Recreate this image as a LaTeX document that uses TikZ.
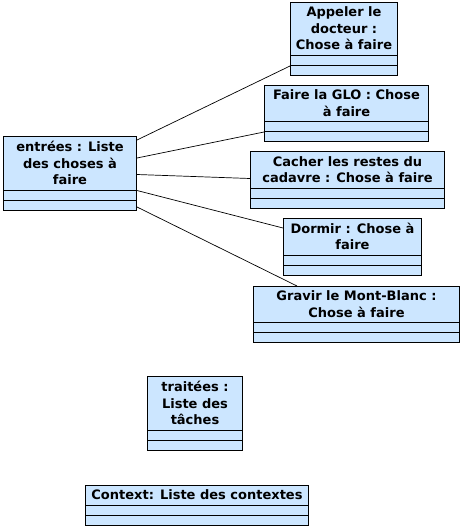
\documentclass[tikz,border=0pt]{standalone}
\usepackage{fontspec}
\setmainfont{DejaVu Sans}
\usetikzlibrary{calc}
\definecolor{chosefill}{RGB}{204,230,255}
\tikzset{
  chosebox/.style={draw=black, fill=chosefill, line width=1pt, inner sep=0pt},
  chosetitle/.style={align=center, inner sep=0pt,
    font=\fontsize{13}{16.5}\selectfont\bfseries},
  lien/.style={draw=black, line width=0.7pt}
}
\newcommand{\chose}[6]{%
  \node[chosebox, anchor=north west, minimum width=#4pt, minimum height=#5pt]
    (#1) at (#2,#3) {};
  \draw[line width=0.9pt] ([yshift=21pt]#1.south west) -- ([yshift=21pt]#1.south east);
  \draw[line width=0.9pt] ([yshift=10.5pt]#1.south west) -- ([yshift=10.5pt]#1.south east);
  \node[chosetitle] (#1-t) at ($(#1.north)!0.5!([yshift=21pt]#1.south)$) {#6};
}

\begin{document}
\begin{tikzpicture}[x=1pt, y=-1pt]
    \useasboundingbox (0,0) rectangle (462,528);
    % Objects (name, x, y, width, height, label)
    \chose{entrees}{3}{136}{133}{74}{entrées : Liste\\des choses à\\faire}
    \chose{appeler}{290}{2}{107}{73}{Appeler le\\docteur :\\Chose à faire}
    \chose{glo}{264}{85}{164}{56}{Faire la GLO : Chose\\à faire}
    \chose{cadavre}{250}{151}{194}{57}{Cacher les restes du\\cadavre : Chose à faire}
    \chose{dormir}{283}{218}{138}{57}{Dormir : Chose à\\faire}
    \chose{gravir}{253}{286}{206}{56}{Gravir le Mont-Blanc :\\Chose à faire}
    \chose{traitees}{147}{376}{95}{74}{traitées :\\Liste des\\tâches}
    \chose{context}{85}{485}{223}{40}{Context: Liste des contextes}
    % Links
    \draw[lien] ([yshift=-4pt]entrees.north east) -- ([yshift=10pt]appeler.south west);
    \draw[lien] ([yshift=-22pt]entrees.north east) -- ([yshift=10pt]glo.south west);
    \draw[lien] ([yshift=-1pt]entrees.east) -- ([yshift=1.5pt]cadavre.west);
    \draw[lien] ([yshift=-17pt]entrees.east) -- ([yshift=-10pt]dormir.north west);
    \draw[lien] ([yshift=4pt]entrees.south east) -- ([xshift=44pt]gravir.north west);
\end{tikzpicture}
\end{document}
